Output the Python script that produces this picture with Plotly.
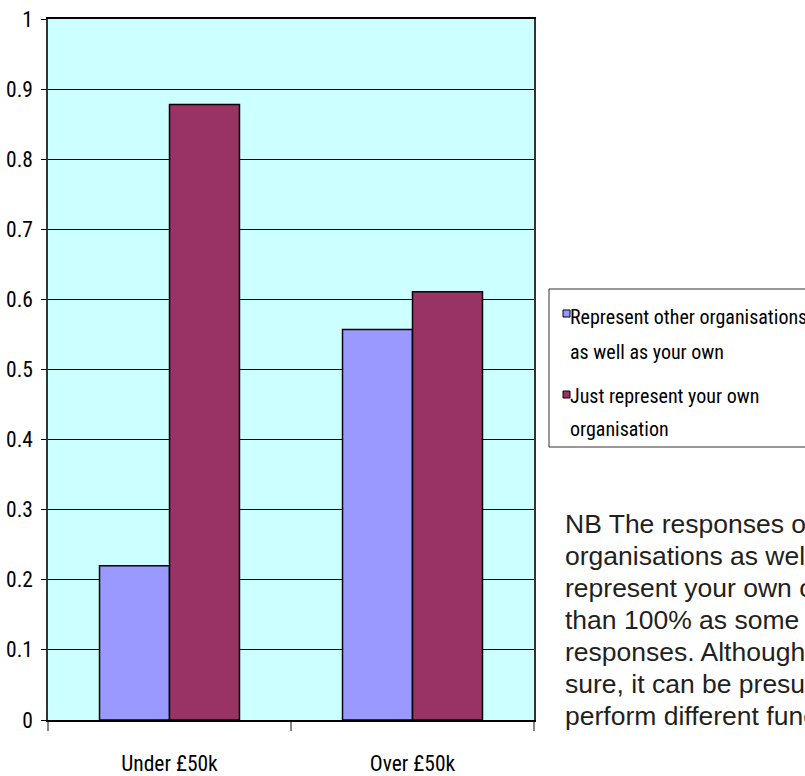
import plotly.graph_objects as go

# Share of respondents by turnover band
categories = ["Under £50k", "Over £50k"]
represent_other = [0.22, 0.557]
just_own = [0.878, 0.611]

series_names = [
    "Represent other organisations as well as your own",
    "Just represent your own organisation",
]
legend_lines = [
    ["Represent other organisations", "as well as your own"],
    ["Just represent your own", "organisation"],
]
series_colors = ["#9999FF", "#993366"]

y_tick_values = [0, 0.1, 0.2, 0.3, 0.4, 0.5, 0.6, 0.7, 0.8, 0.9, 1]
y_tick_labels = ["0", "0.1", "0.2", "0.3", "0.4", "0.5", "0.6", "0.7", "0.8", "0.9", "1"]

note_lines = [
    "NB The responses of 'Represent other",
    "organisations as well as your own' and 'Just",
    "represent your own organisation' add up to more",
    "than 100% as some respondents gave both",
    "responses. Although we cannot be",
    "sure, it can be presumed that these",
    "perform different functions.",
]

NARROW = "Roboto Condensed, Liberation Sans Narrow, Arial Narrow, DejaVu Sans Condensed, Liberation Sans, sans-serif"
SANS = "Liberation Sans, Arial, Helvetica, sans-serif"

# Pixel frame of the plotting area
W, H = 805, 776
L, R, T, B = 48, 534, 19, 720


def px(x):
    return (x - L) / (R - L)


def py(y):
    return (B - y) / (B - T)


fig = go.Figure()
for name, vals, col in zip(series_names, [represent_other, just_own], series_colors):
    fig.add_trace(go.Bar(
        x=categories, y=vals, name=name,
        marker=dict(color=col, line=dict(color="#000000", width=1.5)),
        showlegend=False,
    ))

shapes = []
annotations = []

# Legend box
shapes.append(dict(type="rect", xref="paper", yref="paper",
                   x0=px(549), x1=px(815), y0=py(447), y1=py(289),
                   line=dict(color="#333333", width=1), fillcolor="white", layer="above"))
swatch_tops = [310, 391]
text_centers = [[316.5, 351.5], [395.5, 429.5]]
for col, top, lines, centers in zip(series_colors, swatch_tops, legend_lines, text_centers):
    shapes.append(dict(type="rect", xref="paper", yref="paper",
                       x0=px(563), x1=px(570), y0=py(top + 7), y1=py(top),
                       line=dict(color="#000000", width=1), fillcolor=col, layer="above"))
    for line, cy in zip(lines, centers):
        annotations.append(dict(xref="paper", yref="paper", x=px(568), y=py(cy),
                                xanchor="left", yanchor="middle", showarrow=False,
                                text=line, font=dict(family=NARROW, size=20, color="#000000")))

# Explanatory note
for i, line in enumerate(note_lines):
    baseline = 533 + 32 * i
    annotations.append(dict(xref="paper", yref="paper", x=px(563), y=py(baseline - 9.4),
                            xanchor="left", yanchor="middle", showarrow=False,
                            text=line, font=dict(family=SANS, size=26.5, color="#231F20")))

fig.update_layout(
    width=W, height=H,
    margin=dict(l=L, r=W - R, t=T, b=H - B, pad=0, autoexpand=False),
    paper_bgcolor="white",
    plot_bgcolor="#CCFFFF",
    barmode="group",
    bargap=0.424,
    bargroupgap=0,
    font=dict(family=NARROW, size=21.5, color="#000000"),
    shapes=shapes,
    annotations=annotations,
    showlegend=False,
)
fig.update_yaxes(
    range=[0, 1], tickvals=y_tick_values, ticktext=y_tick_labels,
    showgrid=True, gridcolor="#000000", gridwidth=1, zeroline=False,
    ticks="outside", ticklen=5, tickcolor="#000000", ticklabelstandoff=4,
    showline=True, linecolor="#333333", linewidth=1.5, mirror=True,
    automargin=False,
)
fig.update_xaxes(
    type="category", tickson="boundaries",
    ticks="outside", ticklen=9, tickcolor="#888888", tickwidth=1.5,
    ticklabelstandoff=23,
    showline=True, linecolor="#000000", linewidth=1.5, mirror=True,
    showgrid=False, automargin=False,
)

fig.write_html("out.html")
